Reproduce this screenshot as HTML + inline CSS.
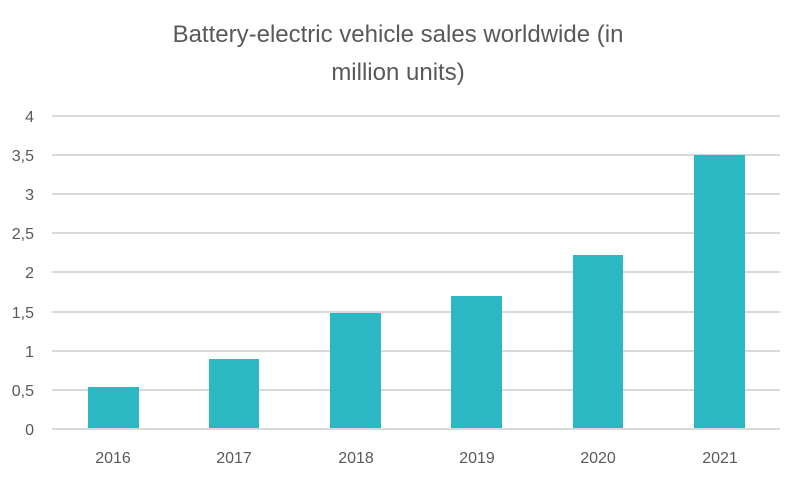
<!DOCTYPE html>
<html><head><style>body{margin:0;background:#fff}svg text{font-family:"Liberation Sans",sans-serif;fill:#595959}</style></head><body>
<svg width="801" height="478" xmlns="http://www.w3.org/2000/svg">
<text x="398" y="42" font-size="24" text-anchor="middle">Battery-electric vehicle sales worldwide (in</text>
<text x="398" y="80" font-size="24" text-anchor="middle">million units)</text>
<g stroke="#d9d9d9" stroke-width="2">
<line x1="52" x2="780" y1="116" y2="116"/><line x1="52" x2="780" y1="155" y2="155"/>
<line x1="52" x2="780" y1="194" y2="194"/><line x1="52" x2="780" y1="233" y2="233"/>
<line x1="52" x2="780" y1="272" y2="272"/><line x1="52" x2="780" y1="312" y2="312"/>
<line x1="52" x2="780" y1="351" y2="351"/><line x1="52" x2="780" y1="390" y2="390"/>
<line x1="52" x2="780" y1="429" y2="429"/></g>
<g font-size="16" text-anchor="end">
<text x="34" y="122">4</text><text x="34" y="161">3,5</text><text x="34" y="200">3</text>
<text x="34" y="239">2,5</text><text x="34" y="278">2</text><text x="34" y="318">1,5</text>
<text x="34" y="357">1</text><text x="34" y="396">0,5</text><text x="34" y="435">0</text></g>
<g fill="#2ab9c3">
<rect x="88" y="387" width="51" height="41"/><rect x="209" y="359" width="50" height="69"/>
<rect x="330" y="313" width="51" height="115"/><rect x="451" y="296" width="51" height="132"/>
<rect x="573" y="255" width="50" height="173"/><rect x="694" y="155" width="51" height="273"/></g>
<g font-size="16" text-anchor="middle">
<text x="113" y="463">2016</text><text x="234" y="463">2017</text><text x="356" y="463">2018</text>
<text x="477" y="463">2019</text><text x="598" y="463">2020</text><text x="720" y="463">2021</text></g>
</svg></body></html>
